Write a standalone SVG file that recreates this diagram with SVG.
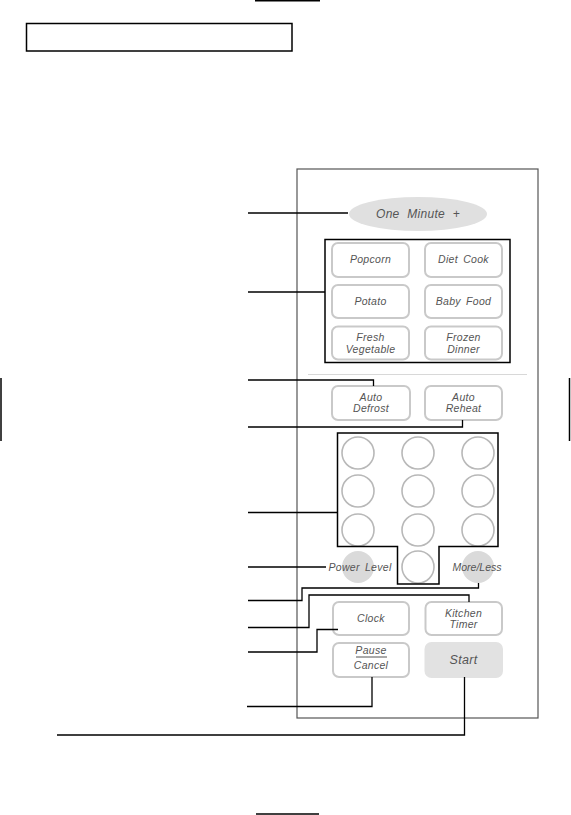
<svg xmlns="http://www.w3.org/2000/svg" width="571" height="815" viewBox="0 0 571 815">
<style>
.ld{fill:none;stroke:#000;stroke-width:1.3}
.btn{fill:#fff;stroke:#c9c9c9;stroke-width:2}
.key{fill:#fff;stroke:#b8b8b8;stroke-width:1.6}
.t{font-family:"Liberation Sans",Arial,sans-serif;font-style:italic;font-size:10.5px;fill:#555;text-anchor:middle;letter-spacing:0.3px}
</style>
<rect width="571" height="815" fill="#fff"/>
<g id="page-marks" stroke="#000" stroke-width="1.5">
<line x1="255" y1="0.8" x2="320" y2="0.8"/>
<line x1="256" y1="814" x2="319" y2="814"/>
<line x1="1" y1="378" x2="1" y2="441"/>
<line x1="569.5" y1="378" x2="569.5" y2="441"/>
</g>
<rect id="title-box" x="26.5" y="23.5" width="265.5" height="27.5" fill="none" stroke="#000" stroke-width="1.5"/>
<rect id="panel" x="297" y="169" width="241" height="549" fill="none" stroke="#555" stroke-width="1.2"/>
<line id="separator" x1="308" y1="374.5" x2="527" y2="374.5" stroke="#d8d8d8" stroke-width="1.2"/>

<g id="one-minute">
<ellipse cx="418" cy="214" rx="69" ry="17" fill="#e0e0e0"/>
<text class="t" x="418" y="218" style="font-size:12px;word-spacing:4px">One Minute +</text>
</g>

<g id="popcorn"><rect class="btn" x="332" y="243" width="77" height="34" rx="6"/><text class="t" x="370.5" y="263">Popcorn</text></g>
<g id="diet-cook"><rect class="btn" x="425" y="243" width="77" height="34" rx="6"/><text class="t" x="463.5" y="263" style="word-spacing:2px">Diet Cook</text></g>
<g id="potato"><rect class="btn" x="332" y="285" width="77" height="33" rx="6"/><text class="t" x="370.5" y="305">Potato</text></g>
<g id="baby-food"><rect class="btn" x="425" y="285" width="77" height="33" rx="6"/><text class="t" x="463.5" y="305" style="word-spacing:2px">Baby Food</text></g>
<g id="fresh-vegetable"><rect class="btn" x="332" y="326.5" width="77" height="33" rx="6"/><text class="t" x="370.5" y="341">Fresh</text><text class="t" x="370.5" y="352.5">Vegetable</text></g>
<g id="frozen-dinner"><rect class="btn" x="425" y="326.5" width="77" height="33" rx="6"/><text class="t" x="463.5" y="341">Frozen</text><text class="t" x="463.5" y="352.5">Dinner</text></g>
<rect id="auto-cook-group" x="325" y="239.5" width="185" height="123" fill="none" stroke="#000" stroke-width="1.5"/>

<g id="auto-defrost"><rect class="btn" x="332" y="386" width="78" height="34" rx="6"/><text class="t" x="371" y="401">Auto</text><text class="t" x="371" y="412">Defrost</text></g>
<g id="auto-reheat"><rect class="btn" x="425" y="386" width="77" height="34" rx="6"/><text class="t" x="463.5" y="401">Auto</text><text class="t" x="463.5" y="412">Reheat</text></g>

<g id="number-pad">
<circle class="key" cx="358" cy="453" r="16"/><circle class="key" cx="418" cy="453" r="16"/><circle class="key" cx="478" cy="453" r="16"/>
<circle class="key" cx="358" cy="491" r="16"/><circle class="key" cx="418" cy="491" r="16"/><circle class="key" cx="478" cy="491" r="16"/>
<circle class="key" cx="358" cy="530" r="16"/><circle class="key" cx="418" cy="530" r="16"/><circle class="key" cx="478" cy="530" r="16"/>
<circle class="key" cx="418" cy="567" r="16"/>
<path d="M337.5,433 H498 V546.5 H439 V584 H397.5 V546.5 H337.5 Z" fill="none" stroke="#000" stroke-width="1.5"/>
</g>

<g id="power-level"><circle cx="358" cy="567" r="16" fill="#dadada"/><text class="t" x="360" y="571" style="word-spacing:2px">Power Level</text></g>
<g id="more-less"><circle cx="478" cy="567" r="16" fill="#dadada"/><text class="t" x="477" y="571" style="letter-spacing:0">More/Less</text></g>

<g id="clock"><rect class="btn" x="333" y="602" width="76" height="33" rx="6"/><text class="t" x="371" y="622">Clock</text></g>
<g id="kitchen-timer"><rect class="btn" x="425.5" y="602" width="76.5" height="33" rx="6"/><text class="t" x="463.5" y="617">Kitchen</text><text class="t" x="463.5" y="628">Timer</text></g>
<g id="pause-cancel"><rect class="btn" x="333" y="643" width="76" height="34" rx="6"/><text class="t" x="371" y="654">Pause</text><line x1="356" y1="657" x2="387" y2="657" stroke="#555" stroke-width="1"/><text class="t" x="371" y="669">Cancel</text></g>
<g id="start"><rect x="425.5" y="643" width="76.5" height="34" rx="6" fill="#e2e2e2" stroke="#e2e2e2" stroke-width="2"/><text class="t" x="463.5" y="664" style="font-size:12.5px">Start</text></g>

<g id="connectors">
<path class="ld" d="M248,213 H348"/>
<path class="ld" d="M248,292 H325"/>
<path class="ld" d="M248,380 H373.5 V386"/>
<path class="ld" d="M248,427 H462.5 V420"/>
<path class="ld" d="M248,512.5 H337.5"/>
<path class="ld" d="M248,567 H326"/>
<path class="ld" d="M248,600.5 H302 V588 H478.5 V583"/>
<path class="ld" d="M248,627.5 H309 V595 H469 V602"/>
<path class="ld" d="M248,652 H317 V629.5 H338"/>
<path class="ld" d="M247,706.5 H372 V677"/>
<path class="ld" d="M57,735 H464.5 V677"/>
</g>
</svg>
